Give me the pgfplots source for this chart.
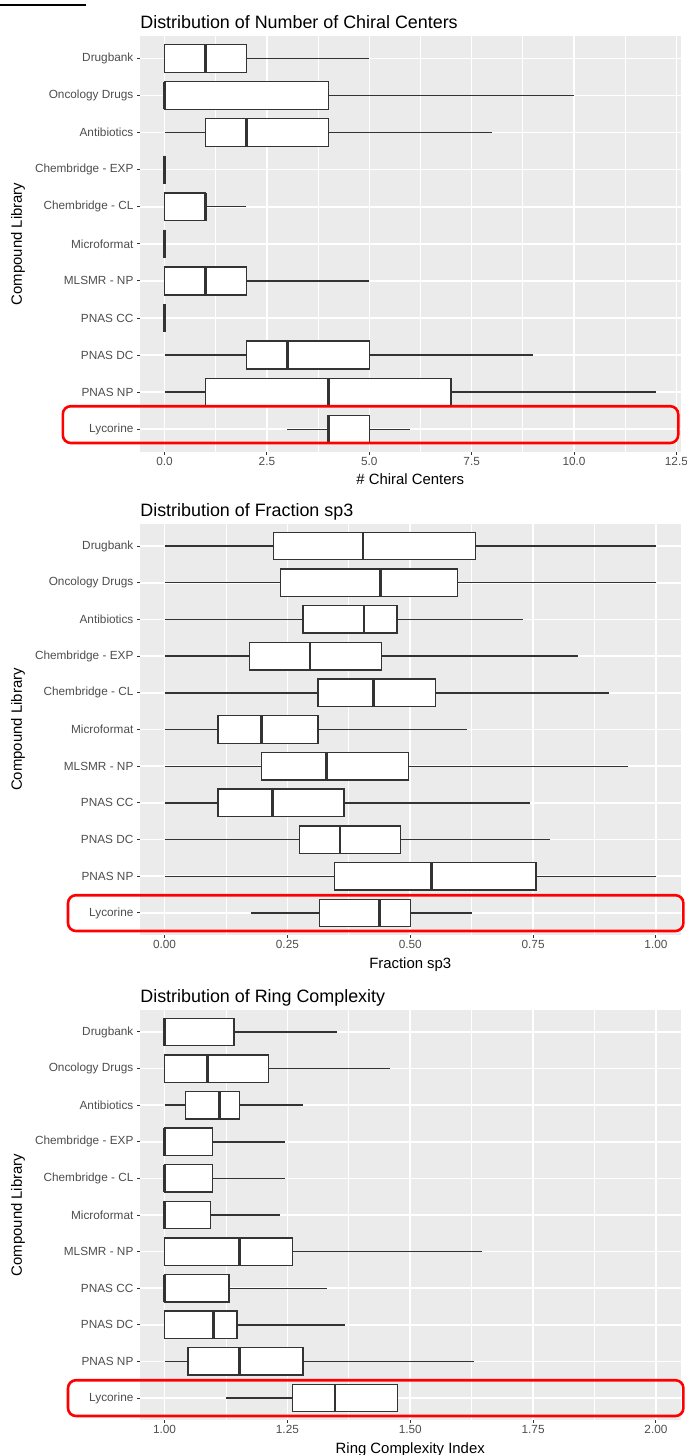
\documentclass[border=0pt]{standalone}
\usepackage{fontspec}
\setmainfont{Liberation Sans}
\usepackage{pgfplots}
\pgfplotsset{compat=1.18}
\usepgfplotslibrary{statistics}
\definecolor{ggbg}{HTML}{EBEBEB}
\definecolor{gg20}{HTML}{333333}
\definecolor{gg30}{HTML}{4D4D4D}
\newcommand\ticksize{\fontsize{5.9}{7}\selectfont}
\newcommand\labsize{\fontsize{7.45}{9}\selectfont}
\newcommand\titlesize{\fontsize{8.95}{11}\selectfont}
\pgfplotsset{
 ggpanel/.style={
   scale only axis, width=270.25pt,
   ymin=0.4, ymax=11.6,
   ytick={1,...,11},
   yticklabels={Lycorine,PNAS NP,PNAS DC,PNAS CC,MLSMR - NP,Microformat,Chembridge - CL,Chembridge - EXP,Antibiotics,Oncology Drugs,Drugbank},
   axis background/.style={fill=ggbg},
   axis line style={draw=none},
   tick align=outside,
   major tick length=1.6pt,
   minor tick length=0pt,
   tick style={gg20, line width=0.5pt},
   xtick pos=left, ytick pos=left,
   minor x tick num=1,
   grid=both,
   major grid style={white, line width=0.8pt},
   minor grid style={white, line width=0.4pt},
   tick label style={font=\ticksize, text=gg30},
   xticklabel style={inner sep=0pt, yshift=-1pt},
   yticklabel style={inner sep=0pt, xshift=-1.5pt},
   /pgf/number format/assume math mode=true,
   title style={font=\titlesize, anchor=base west, at={(axis description cs:0,1)}, yshift=-2pt, inner sep=0pt},
   xlabel style={font=\labsize, anchor=base, inner sep=0pt},
   ylabel style={font=\labsize, at={(axis description cs:-0.2257,0.5)}, anchor=center, inner sep=0pt},
   ylabel={Compound Library},
   boxplot/whisker extend=0,
   boxplot/box extend=0.75,
   boxplot/every median/.style={line width=1.4pt},
 },
 bx/.style={draw=gg20, fill=white, line width=0.7pt, solid, mark=none},
}
\newcommand{\bx}[6]{\addplot[bx, boxplot prepared={lower whisker=#1, lower quartile=#2, median=#3, upper quartile=#4, upper whisker=#5, draw position=#6}] coordinates {};}
\begin{document}
\begin{tikzpicture}
\useasboundingbox (0,0) rectangle (343pt,-727.5pt);
\draw[line width=1pt] (0,-2.5pt) -- (43pt,-2.5pt);
% Panel 1
\begin{axis}[ggpanel, at={(70pt,-225.75pt)}, anchor=south west, height=207.65pt,
  xmin=-0.6, xmax=12.6, xtick={0,2.5,5,7.5,10,12.5},
  xticklabel style={/pgf/number format/fixed, /pgf/number format/fixed zerofill, /pgf/number format/precision=1},
  title={Distribution of Number of Chiral Centers},
  xlabel={\# Chiral Centers},
  xlabel style={at={(axis description cs:0.5,-0.0795)}}]
\bx{0}{0}{1}{2}{5}{11}
\bx{0}{0}{0}{4}{10}{10}
\bx{0}{1}{2}{4}{8}{9}
\bx{0}{0}{0}{0}{0}{8}
\bx{0}{0}{1}{1}{2}{7}
\bx{0}{0}{0}{0}{0}{6}
\bx{0}{0}{1}{2}{5}{5}
\bx{0}{0}{0}{0}{0}{4}
\bx{0}{2}{3}{5}{9}{3}
\bx{0}{1}{4}{7}{12}{2}
\bx{3}{4}{4}{5}{6}{1}
\end{axis}
% Panel 2
\begin{axis}[ggpanel, at={(70pt,-467.5pt)}, anchor=south west, height=205.5pt,
  xmin=-0.05, xmax=1.05, xtick={0,0.25,0.5,0.75,1},
  xticklabel style={/pgf/number format/fixed, /pgf/number format/fixed zerofill, /pgf/number format/precision=2},
  title={Distribution of Fraction sp3},
  xlabel={Fraction sp3},
  xlabel style={at={(axis description cs:0.5,-0.0803)}}]
\bx{0}{0.222}{0.404}{0.633}{1.0}{11}
\bx{0}{0.236}{0.44}{0.596}{1.0}{10}
\bx{0}{0.282}{0.406}{0.473}{0.729}{9}
\bx{0}{0.173}{0.296}{0.441}{0.841}{8}
\bx{0}{0.312}{0.425}{0.551}{0.904}{7}
\bx{0}{0.109}{0.197}{0.312}{0.615}{6}
\bx{0}{0.197}{0.33}{0.496}{0.943}{5}
\bx{0}{0.109}{0.22}{0.365}{0.744}{4}
\bx{0}{0.274}{0.357}{0.48}{0.784}{3}
\bx{0}{0.346}{0.544}{0.756}{1.0}{2}
\bx{0.175}{0.315}{0.438}{0.5}{0.625}{1}
\end{axis}
% Panel 3
\begin{axis}[ggpanel, at={(70pt,-710pt)}, anchor=south west, height=205pt,
  xmin=0.95, xmax=2.05, xtick={1,1.25,1.5,1.75,2},
  xticklabel style={/pgf/number format/fixed, /pgf/number format/fixed zerofill, /pgf/number format/precision=2},
  title={Distribution of Ring Complexity},
  xlabel={Ring Complexity Index},
  xlabel style={at={(axis description cs:0.5,-0.0805)}}]
\bx{1}{1}{1}{1.141}{1.35}{11}
\bx{1}{1}{1.088}{1.211}{1.458}{10}
\bx{1}{1.042}{1.112}{1.152}{1.282}{9}
\bx{1}{1}{1}{1.097}{1.246}{8}
\bx{1}{1}{1}{1.097}{1.246}{7}
\bx{1}{1}{1}{1.093}{1.235}{6}
\bx{1}{1}{1.152}{1.26}{1.645}{5}
\bx{1}{1}{1}{1.131}{1.33}{4}
\bx{1}{1}{1.1}{1.147}{1.367}{3}
\bx{1}{1.048}{1.152}{1.282}{1.63}{2}
\bx{1.125}{1.26}{1.347}{1.474}{1.474}{1}
\end{axis}
% red highlight frames
\draw[red, line width=1.3pt, rounded corners=4pt] (31.4pt,-203.1pt) rectangle (339.1pt,-221.5pt);
\draw[red, line width=1.3pt, rounded corners=4pt] (34pt,-447.6pt) rectangle (341.7pt,-465.5pt);
\draw[red, line width=1.3pt, rounded corners=4pt] (34pt,-690.1pt) rectangle (341.7pt,-708pt);
\end{tikzpicture}
\end{document}
